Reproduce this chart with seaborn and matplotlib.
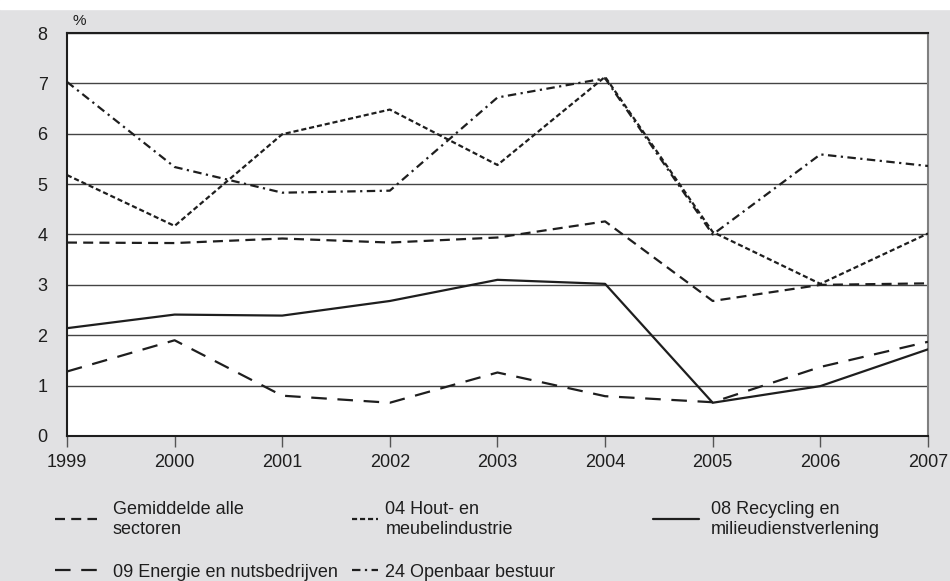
import matplotlib
matplotlib.use("Agg")
import matplotlib.pyplot as plt
import seaborn as sns
from matplotlib.patches import Rectangle

# ziekteverzuim per sector, %
years = [1999, 2000, 2001, 2002, 2003, 2004, 2005, 2006, 2007]
gemiddelde = [3.84, 3.83, 3.92, 3.84, 3.94, 4.26, 2.68, 3.00, 3.03]
hout = [5.18, 4.17, 5.99, 6.48, 5.38, 7.13, 4.05, 3.02, 4.02]
recycling = [2.14, 2.41, 2.39, 2.68, 3.10, 3.02, 0.66, 0.99, 1.72]
energie = [1.28, 1.90, 0.80, 0.66, 1.26, 0.79, 0.67, 1.37, 1.87]
openbaar = [7.03, 5.34, 4.83, 4.87, 6.72, 7.10, 4.00, 5.59, 5.36]

labels = {
    "gem": "Gemiddelde alle\nsectoren",
    "hout": "04 Hout- en\nmeubelindustrie",
    "rec": "08 Recycling en\nmilieudienstverlening",
    "en": "09 Energie en nutsbedrijven",
    "ob": "24 Openbaar bestuur",
}

sns.set_style("white")
plt.rcParams['font.family'] = ['Liberation Sans', 'DejaVu Sans']

ink = "#1e1e1e"
bg = "#e1e1e3"

fig = plt.figure(figsize=(9.5, 5.81), dpi=100, facecolor=bg)
fig.add_artist(Rectangle((0, 1 - 9 / 581), 1, 9 / 581, transform=fig.transFigure,
                         color="white", zorder=0))
ax = fig.add_axes([0.0705, 0.2496, 0.9063, 0.6936])
ax.set_facecolor("white")

lw = 1.6
series = [
    ("gem", gemiddelde, (0, (4.5, 2.8))),
    ("hout", hout, (0, (2.3, 1.3))),
    ("rec", recycling, "-"),
    ("en", energie, (0, (7.0, 4.8))),
    ("ob", openbaar, (0, (3.8, 2.0, 1.0, 2.0))),
]
for key, vals, ls in series:
    sns.lineplot(x=years, y=vals, ax=ax, color=ink, linewidth=lw,
                 linestyle=ls, label=labels[key], legend=False, zorder=3)

ax.set_xlim(1999, 2007)
ax.set_ylim(0, 8)
ax.set_xticks(years)
ax.set_yticks(range(0, 9))
ax.yaxis.grid(True, color="#444444", linewidth=1.0)
ax.xaxis.grid(False)
ax.set_axisbelow(True)
ax.tick_params(axis="y", length=0, pad=14, labelsize=13, labelcolor=ink)
ax.tick_params(axis="x", length=8, width=1, color="#555555", direction="out",
               pad=5, labelsize=13, labelcolor=ink, bottom=True)
for side in ["left", "bottom", "top"]:
    ax.spines[side].set_color(ink)
    ax.spines[side].set_linewidth(1.5)
ax.spines["right"].set_color("#808080")
ax.spines["right"].set_linewidth(1.5)
ax.set_xlabel("")
ax.set_ylabel("")
ax.text(0.006, 1.012, "%", transform=ax.transAxes, fontsize=11, color=ink,
        ha="left", va="bottom")

lines = {key: ln for (key, _, _), ln in zip(series, ax.get_lines())}

leg_top = 1 - 501 / 581
leg_kw = dict(loc="upper left", frameon=False, fontsize=13, borderpad=0,
              borderaxespad=0, labelspacing=1.45, labelcolor=ink)
fig.legend([lines["gem"], lines["en"]], [labels["gem"], labels["en"]],
           bbox_to_anchor=(55 / 950, leg_top), handlelength=2.3,
           handletextpad=0.9, **leg_kw)
fig.legend([lines["hout"], lines["ob"]], [labels["hout"], labels["ob"]],
           bbox_to_anchor=(352 / 950, leg_top), handlelength=1.45,
           handletextpad=0.4, **leg_kw)
fig.legend([lines["rec"]], [labels["rec"]],
           bbox_to_anchor=(653 / 950, leg_top), handlelength=2.55,
           handletextpad=0.67, **leg_kw)

fig.savefig("out.png", dpi=100, facecolor=bg)
